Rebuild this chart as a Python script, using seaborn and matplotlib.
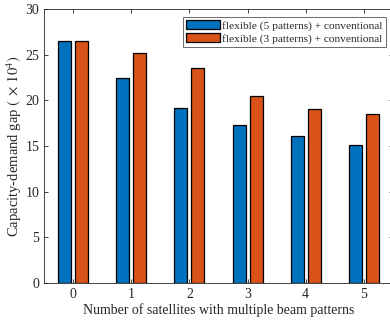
import pandas as pd
import matplotlib
matplotlib.use("Agg")
import matplotlib.pyplot as plt
import seaborn as sns

# dados
satellites = [0, 1, 2, 3, 4, 5]
gap_5_patterns = [26.5, 22.5, 19.2, 17.3, 16.05, 15.15]
gap_3_patterns = [26.5, 25.2, 23.5, 20.5, 19.1, 18.5]
series_names = ["flexible (5 patterns) + conventional",
                "flexible (3 patterns) + conventional"]

df = pd.DataFrame({
    "sat": satellites * 2,
    "gap": gap_5_patterns + gap_3_patterns,
    "serie": [series_names[0]] * 6 + [series_names[1]] * 6,
})

sns.set_style("ticks")
plt.rcParams["font.family"] = ["Liberation Serif", "DejaVu Serif"]
plt.rcParams["mathtext.fontset"] = "stix"

fig = plt.figure(figsize=(3.9, 3.24), dpi=100)
ax = fig.add_axes([44 / 390, 41 / 324, 349 / 390, 274 / 324])

sns.barplot(data=df, x="sat", y="gap", hue="serie",
            palette=["#0072BD", "#D95319"], width=0.58, gap=0.23,
            edgecolor="black", linewidth=0.9, saturation=1, ax=ax)

ax.set_ylim(0, 30)
ax.set_xlim(-0.5, 5.5)
ax.set_yticks(range(0, 31, 5))
ax.set_xlabel("Number of satellites with multiple beam patterns", fontsize=10, labelpad=2)
ax.set_ylabel(r"Capacity-demand gap $(\;\times\,10^4)$", fontsize=10.5)
ax.yaxis.set_label_coords(-0.057, 0.5)
ax.tick_params(direction="in", top=True, right=True, labelsize=10,
               length=3, width=0.6, colors="#262626")
for s in ax.spines.values():
    s.set_linewidth(0.6)
    s.set_color("#262626")

leg = ax.legend(loc="upper right", bbox_to_anchor=(0.979, 0.971), fontsize=8.2,
                frameon=True, fancybox=False, edgecolor="#262626",
                handlelength=3.0, handleheight=0.9, handletextpad=0.2,
                borderpad=0.25, labelspacing=0.2, borderaxespad=0)
leg.get_frame().set_linewidth(0.6)

fig.savefig("out.png", dpi=100)
